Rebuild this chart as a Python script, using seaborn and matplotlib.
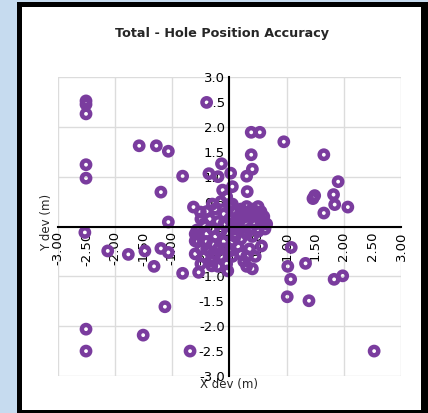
import matplotlib
matplotlib.use("Agg")
import matplotlib.pyplot as plt
from matplotlib.patches import Rectangle
import seaborn as sns
import pandas as pd

# -----------------------------
# DATA
# -----------------------------
outer_x = [-2.51, -2.51, -2.51, -2.51, -2.51, -1.58, -1.28, -1.07, -0.82, -1.20,
           -0.40, -1.07, -0.63, -0.51, -0.14, -0.36, -0.20, -0.12, 0.02, 0.05,
           0.38, 0.53, 0.95, 0.38, 1.65, 0.40, 0.30, 0.31,
           1.90, 1.82, 1.49, 1.46, 1.84, 2.07, 1.65,
           -2.53, -2.13, -1.77, -1.48, -1.20, -1.07, -1.32,
           -0.82, -0.54, -0.31, -0.03, -1.13, -2.51, -2.51, -1.51, -0.69,
           1.08, 1.33, 1.02, 1.07, 1.83, 1.98, 1.01, 1.39, 2.53,
           0.56, -0.57, -0.60]
outer_y = [2.52, 2.45, 2.26, 1.24, 0.97, 1.62, 1.62, 1.51, 1.01, 0.69,
           2.49, 0.09, 0.39, 0.29, 1.26, 1.06, 1.00, 0.73, 1.07, 0.80,
           1.89, 1.89, 1.70, 1.44, 1.44, 1.15, 1.01, 0.70,
           0.90, 0.64, 0.62, 0.56, 0.44, 0.39, 0.27,
           -0.12, -0.49, -0.56, -0.49, -0.44, -0.52, -0.80,
           -0.94, -0.92, -0.79, -0.89, -1.61, -2.06, -2.50, -2.18, -2.50,
           -0.42, -0.74, -0.80, -1.06, -1.06, -0.99, -1.41, -1.49, -2.50,
           -0.39, -0.07, -0.29]

# dense cluster around the origin
cluster_x = [-0.45, -0.35, -0.25, -0.15, -0.05, -0.20, -0.10, 0.00, -0.30,
             0.10, 0.20, 0.30, 0.40, 0.50, 0.55, 0.60, 0.65, 0.62, 0.50,
             0.40, 0.30, 0.20, 0.10, 0.15, 0.30, 0.45, 0.55, 0.35, 0.25, 0.05,
             -0.60, -0.55, -0.50, -0.45, -0.40, -0.35, -0.30, -0.25, -0.20,
             -0.15, -0.10, -0.05, 0.00, -0.05, 0.05, -0.60, -0.50,
             0.10, 0.15, 0.20, 0.25, 0.30, 0.40, 0.45, 0.35, 0.40, 0.50, 0.20,
             0.00, -0.10, 0.05, 0.15, 0.25, 0.35, 0.45, 0.60, 0.50, 0.30,
             -0.40, -0.30, -0.15, -0.25, -0.40, -0.10, 0.05, -0.20, 0.10,
             0.30, -0.50, -0.40, -0.30]
cluster_y = [0.05, 0.15, 0.35, 0.50, 0.60, 0.10, 0.25, 0.40, -0.05,
             0.30, 0.35, 0.40, 0.35, 0.40, 0.30, 0.20, 0.05, -0.05, 0.20,
             0.20, 0.20, 0.15, 0.10, 0.00, 0.05, 0.05, 0.10, -0.05, -0.10, 0.45,
             -0.15, -0.30, -0.45, -0.60, -0.30, -0.50, -0.70, -0.20, -0.45,
             -0.60, -0.30, -0.75, -0.50, -0.15, -0.30, -0.55, -0.75,
             -0.20, -0.40, -0.55, -0.70, -0.80, -0.85, -0.60, -0.45, -0.20, -0.10, -0.25,
             0.15, 0.05, 0.00, 0.20, 0.30, 0.30, 0.30, 0.10, -0.05, -0.15,
             -0.15, -0.35, -0.10, -0.55, -0.45, -0.45, -0.60, -0.80, -0.05,
             -0.60, 0.15, 0.30, 0.45]

x_ticks = [-3.0, -2.5, -2.0, -1.5, -1.0, -0.5, 0.0, 0.5, 1.0, 1.5, 2.0, 2.5, 3.0]
x_tick_labels = ["-3.00", "-2.50", "-2.00", "-1.50", "-1.00", "-0.50", "0.00",
                 "0.50", "1.00", "1.50", "2.00", "2.50", "3.00"]
y_ticks = x_ticks
y_tick_labels = ["-3.0", "-2.5", "-2.0", "-1.5", "-1.0", "-0.5", "0.0",
                 "0.5", "1.0", "1.5", "2.0", "2.5", "3.0"]
grid_pos = [-3, -2, -1, 0, 1, 2, 3]

df = pd.DataFrame({"x": outer_x + cluster_x, "y": outer_y + cluster_y})

PURPLE = "#7a3c9e"

# -----------------------------
# FIGURE
# -----------------------------
sns.set_style("white")
plt.rcParams["font.family"] = ["DejaVu Sans"]
plt.rcParams["axes.unicode_minus"] = False

fig = plt.figure(figsize=(4.28, 4.13), dpi=100)
fig.patch.set_facecolor("#c6dbef")
# black frame + white card
fig.add_artist(Rectangle((17 / 428, 0), 411 / 428, 411 / 413, transform=fig.transFigure,
                         facecolor="black", edgecolor="none", zorder=-10))
fig.add_artist(Rectangle((22 / 428, 3 / 413), 399 / 428, 403 / 413, transform=fig.transFigure,
                         facecolor="white", edgecolor="none", zorder=-9))

ax = fig.add_axes([58 / 428, 37 / 413, 343 / 428, 299 / 413])
ax.patch.set_alpha(0)

for v in grid_pos:
    ax.axvline(v, color="#dcdcdc", lw=1, zorder=0)
    ax.axhline(v, color="#dcdcdc", lw=1, zorder=0)

sns.scatterplot(data=df, x="x", y="y", s=36, color=PURPLE, edgecolor=PURPLE,
                linewidth=3.2, ax=ax, zorder=1)
ax.collections[-1].set_facecolor("none")

ax.set_xlim(-3, 3)
ax.set_ylim(-3, 3)

ax.spines["left"].set_position(("data", 0))
ax.spines["bottom"].set_position(("data", 0))
ax.spines["top"].set_visible(False)
ax.spines["right"].set_visible(False)
for s in ["left", "bottom"]:
    ax.spines[s].set_color("black")
    ax.spines[s].set_linewidth(1.5)

ax.set_xticks(x_ticks)
ax.set_xticklabels(x_tick_labels, rotation=90)
ax.set_yticks(y_ticks)
ax.set_yticklabels(y_tick_labels)
ax.tick_params(direction="inout", length=5, width=1.2, labelsize=9.5, pad=1, colors="black")

ax.set_xlabel("X dev (m)", fontsize=8.5, va="center")
ax.xaxis.set_label_coords(0.5, -0.03)
ax.set_ylabel("Y dev (m)", fontsize=8.5, va="center")
ax.yaxis.set_label_coords(-0.032, 0.515)

fig.text(222 / 428, 1 - 33 / 413, "Total - Hole Position Accuracy",
         ha="center", va="center", fontweight="bold", fontsize=9.2)

plt.savefig("out.png", dpi=100, facecolor=fig.get_facecolor())
